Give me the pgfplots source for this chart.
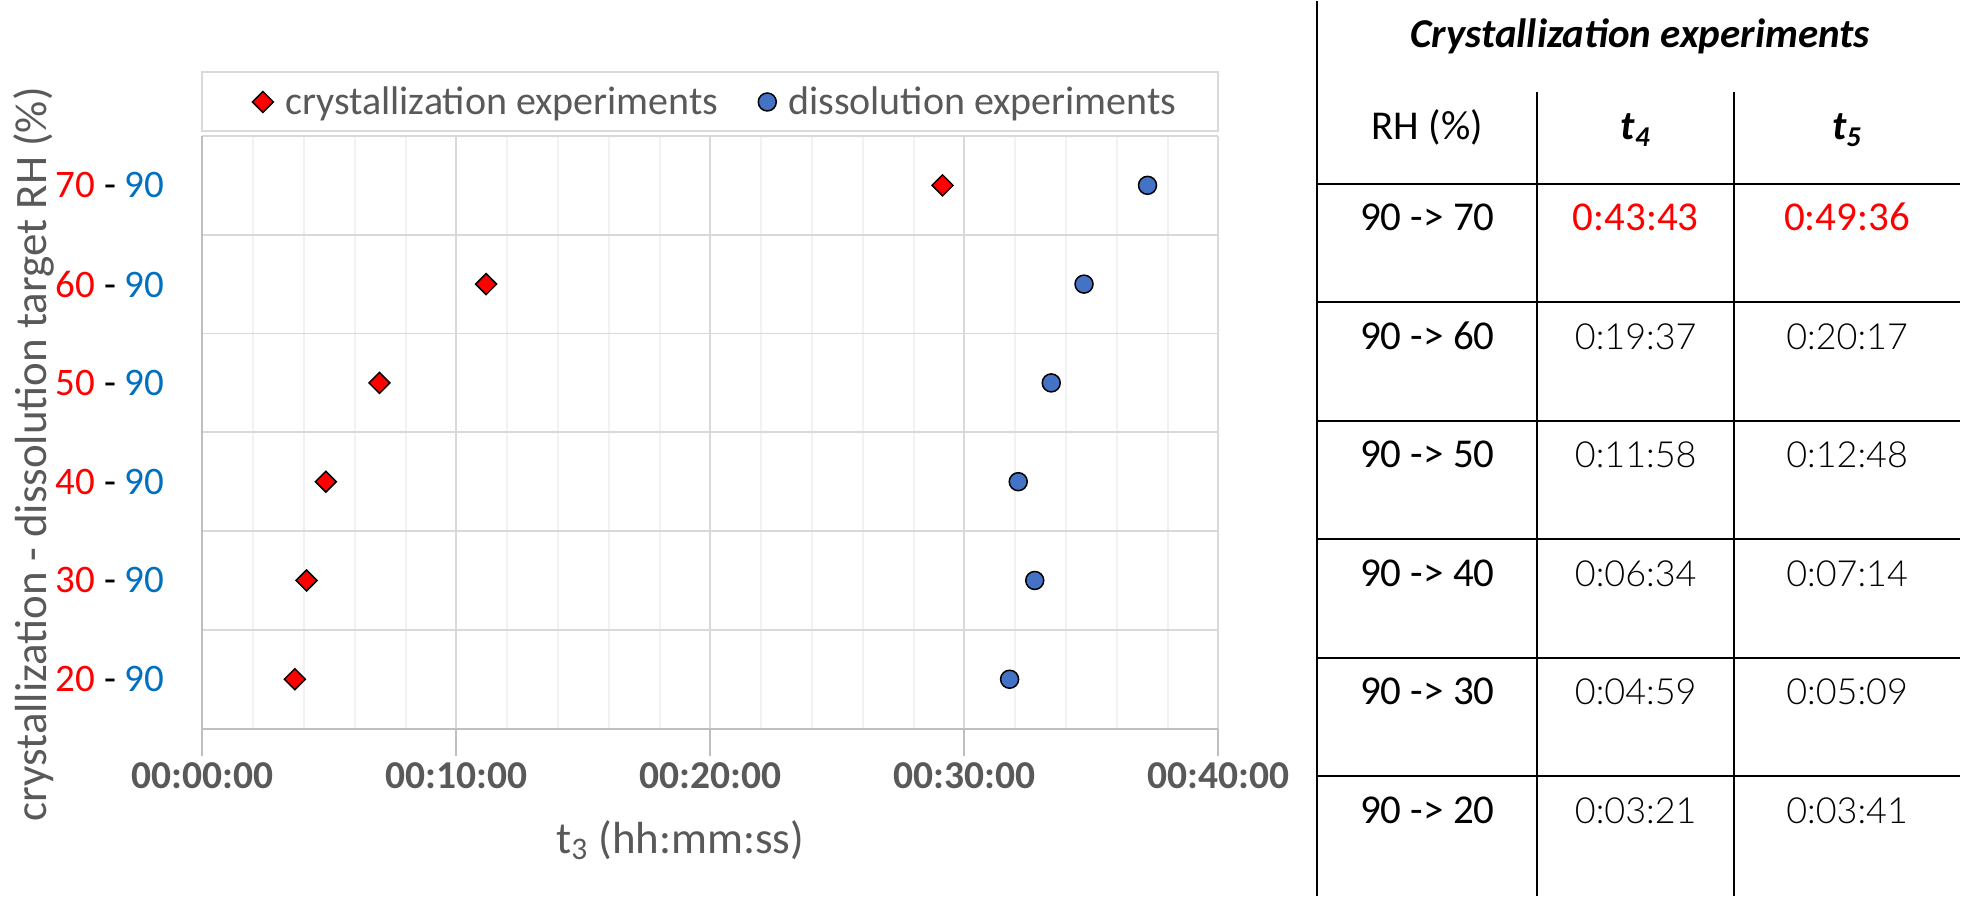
\documentclass[border=0pt]{standalone}
\usepackage{pgfplots}
\pgfplotsset{compat=1.18}
\usepackage{fontspec}
\setmainfont{Carlito}
\newfontfamily\lightfont{Lato Light}
\definecolor{txtgray}{HTML}{595959}
\definecolor{axgray}{HTML}{BFBFBF}
\definecolor{gridmaj}{HTML}{D9D9D9}
\definecolor{gridmin}{HTML}{F2F2F2}
\definecolor{xred}{HTML}{FF0000}
\definecolor{xblue}{HTML}{0070C0}
\definecolor{mblue}{HTML}{4472C4}
\newcommand\tabfont{\fontsize{20.5pt}{24pt}\selectfont}
\newcommand\tablight{\lightfont\fontsize{18pt}{22pt}\selectfont}
\pgfplotsset{mylegend/.style={legend image code/.code={\draw[##1, mark repeat=2, mark phase=2] plot coordinates {(0pt,0pt) (5pt,0pt) (10pt,0pt)};}}}
\begin{document}
\begin{tikzpicture}
\begin{scope}[x=0.5pt,y=-0.5pt]
\useasboundingbox (0,0) rectangle (1961,895);
\fill[white] (0,0) rectangle (1961,895);
\end{scope}
\begin{axis}[
  at={(101.25pt,-364pt)}, anchor=south west,
  scale only axis, width=508.25pt, height=296.5pt,
  xmin=0, xmax=40, ymin=-0.5, ymax=5.5,
  xtick={0,10,20,30,40},
  xticklabels={00:00:00,00:10:00,00:20:00,00:30:00,00:40:00},
  minor x tick num=4,
  ytick={0,1,2,3,4,5},
  yticklabels={
    {\textcolor{xred}{20} - \textcolor{xblue}{90}},
    {\textcolor{xred}{30} - \textcolor{xblue}{90}},
    {\textcolor{xred}{40} - \textcolor{xblue}{90}},
    {\textcolor{xred}{50} - \textcolor{xblue}{90}},
    {\textcolor{xred}{60} - \textcolor{xblue}{90}},
    {\textcolor{xred}{70} - \textcolor{xblue}{90}}},
  minor ytick={-0.5,0.5,1.5,2.5,3.5,4.5,5.5},
  xmajorgrids, xminorgrids, yminorgrids,
  major x grid style={gridmaj, line width=1pt},
  minor x grid style={gridmin, line width=1pt},
  minor y grid style={gridmaj, line width=0.9pt},
  axis x line*=bottom, axis y line*=left,
  axis line style={axgray, line width=1pt, -},
  tick align=outside,
  major tick length=13.5pt, minor tick length=0pt,
  xtick style={axgray, line width=1pt},
  ytick style={draw=none},
  xticklabel style={font=\fontsize{19.75pt}{22pt}\selectfont\bfseries, text=txtgray},
  yticklabel style={font=\fontsize{19.5pt}{22pt}\selectfont, xshift=-2pt},
  every axis y label/.style={at={(axis description cs:-0.1658,0.463)}, rotate=90, anchor=center},
  every axis x label/.style={at={(axis description cs:0.4702,-0.188)}, anchor=center},
  label style={font=\fontsize{22.5pt}{26pt}\selectfont, text=txtgray},
  xlabel={t\textsubscript{3} (hh:mm:ss)},
  ylabel={crystallization - dissolution target RH (\%)},
  legend style={at={(0.506,1.0573)}, anchor=center, draw=none, fill=none,
    font=\fontsize{20pt}{22pt}\selectfont, text=txtgray,
    /tikz/every odd column/.append style={column sep=4pt},
    /tikz/every even column/.append style={column sep=18pt}},
  legend columns=2,
  clip=false,
]
\addplot[only marks, mark=square*, mark size=3.7pt,
  mark options={rotate=45, fill=xred, draw=black, line width=0.75pt}, mylegend]
  coordinates {(3.64,0) (4.10,1) (4.86,2) (6.97,3) (11.17,4) (29.14,5)};
\addlegendentry{crystallization experiments}
\addplot[only marks, mark=*, mark size=4.5pt,
  mark options={fill=mblue, draw=black, line width=0.75pt}, mylegend]
  coordinates {(31.78,0) (32.77,1) (32.12,2) (33.42,3) (34.71,4) (37.21,5)};
\addlegendentry{dissolution experiments}
\draw[gridmaj, line width=1pt] (rel axis cs:0,1.0084) rectangle (rel axis cs:1,1.1079);
\end{axis}
\begin{scope}[x=0.5pt,y=-0.5pt, line width=1pt]
\draw (1317.5,0) -- (1317.5,895);
\draw (1538,91) -- (1538,895);
\draw (1735,91) -- (1735,895);
\foreach \yy in {183,301.5,420,538.5,657,775.5} {\draw (1317.5,\yy) -- (1961,\yy);}
\node[anchor=base, font=\tabfont\bfseries\itshape, inner sep=0pt] at (1641,47) {Crystallization experiments};
\node[anchor=base, font=\tabfont, inner sep=0pt] at (1428,139) {RH (\%)};
\node[anchor=base, font=\tabfont\bfseries\itshape, inner sep=0pt] at (1636.5,139) {t\textsubscript{4}};
\node[anchor=base, font=\tabfont\bfseries\itshape, inner sep=0pt] at (1848,139) {t\textsubscript{5}};
\foreach \yy/\ra in {230/70, 348.5/60, 467/50, 585.5/40, 704/30, 822.5/20} {
  \node[anchor=base, font=\tabfont, inner sep=0pt] at (1428,\yy) {90 -> \ra};
}
\node[anchor=base, font=\tabfont, inner sep=0pt, text=xred] at (1636.5,230) {0:43:43};
\node[anchor=base, font=\tabfont, inner sep=0pt, text=xred] at (1848,230) {0:49:36};
\foreach \yy/\ta/\tb in {348.5/0:19:37/0:20:17, 467/0:11:58/0:12:48, 585.5/0:06:34/0:07:14, 704/0:04:59/0:05:09, 822.5/0:03:21/0:03:41} {
  \node[anchor=base, font=\tablight, inner sep=0pt] at (1636.5,\yy) {\ta};
  \node[anchor=base, font=\tablight, inner sep=0pt] at (1848,\yy) {\tb};
}
\end{scope}
\end{tikzpicture}
\end{document}
